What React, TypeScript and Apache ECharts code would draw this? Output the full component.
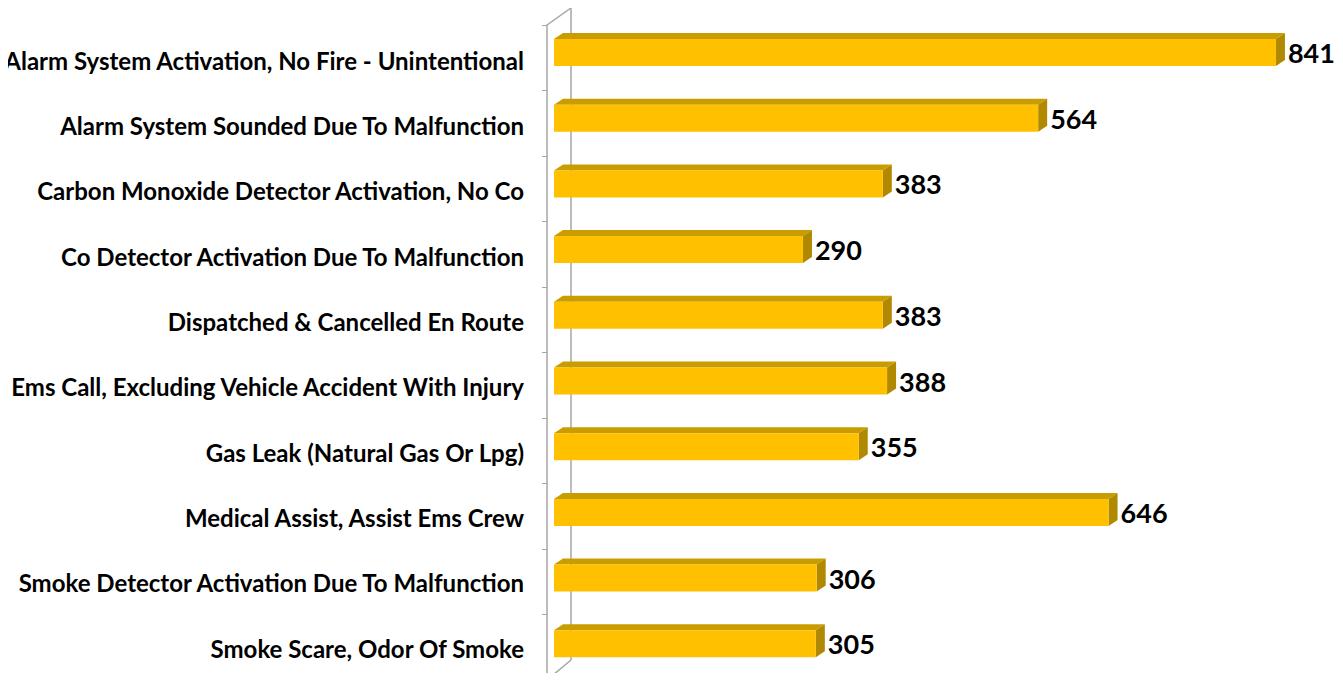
import React, { useEffect, useRef } from "react";
import * as echarts from "echarts";

const categories = [
  "Alarm System Activation, No Fire - Unintentional",
  "Alarm System Sounded Due To Malfunction",
  "Carbon Monoxide Detector Activation, No Co",
  "Co Detector Activation Due To Malfunction",
  "Dispatched & Cancelled En Route",
  "Ems Call, Excluding Vehicle Accident With Injury",
  "Gas Leak (Natural Gas Or Lpg)",
  "Medical Assist, Assist Ems Crew",
  "Smoke Detector Activation Due To Malfunction",
  "Smoke Scare, Odor Of Smoke",
];
const counts = [841, 564, 383, 290, 383, 388, 355, 646, 306, 305];

const FRONT = "#FFC000";
const TOP = "#C99C00";
const SIDE = "#B08900";
const WALL = "#A6A6A6";
const FONT = "Lato, 'Open Sans', sans-serif";

export default function App() {
  const ref = useRef<HTMLDivElement>(null);
  useEffect(() => {
    if (!ref.current) return;
    const chart = echarts.init(ref.current, null, { renderer: "svg" });
    const data = counts.map((v, i) => [v, i]);
    chart.setOption({
      animation: false,
      backgroundColor: "#ffffff",
      grid: [
        { left: 554, top: 19.65, height: 657, width: 772.6 },
        { left: 547, top: 25, height: 655, width: 10 },
        { left: 547, top: 27.65, height: 657, width: 10 },
      ],
      xAxis: [
        { type: "value", gridIndex: 0, min: 0, max: 900, show: false },
        { type: "value", gridIndex: 1, show: false },
        { type: "value", gridIndex: 2, show: false },
      ],
      yAxis: [
        { type: "category", gridIndex: 0, data: categories, inverse: true, show: false },
        {
          type: "category",
          gridIndex: 1,
          data: categories,
          inverse: true,
          axisLine: { show: true, lineStyle: { color: WALL, width: 1.5 } },
          axisTick: { show: true, length: 5, lineStyle: { color: WALL } },
          axisLabel: { show: false },
          splitLine: { show: false },
        },
        {
          type: "category",
          gridIndex: 2,
          data: categories,
          inverse: true,
          axisLine: { show: false },
          axisTick: { show: false },
          axisLabel: {
            show: true,
            margin: 23,
            color: "#000",
            fontFamily: FONT,
            fontWeight: "bold",
            fontSize: 24,
          },
        },
      ],
      graphic: [
        { type: "line", shape: { x1: 571, y1: 8, x2: 571, y2: 660 }, style: { stroke: WALL, lineWidth: 1.5 } },
        { type: "line", shape: { x1: 547, y1: 25, x2: 571, y2: 8 }, style: { stroke: WALL, lineWidth: 1.5 } },
        { type: "line", shape: { x1: 547, y1: 680, x2: 571, y2: 660 }, style: { stroke: WALL, lineWidth: 1.5 } },
      ],
      series: [
        {
          type: "custom",
          xAxisIndex: 0,
          yAxisIndex: 0,
          data,
          renderItem: (params: any, api: any) => {
            const v = api.value(0);
            const c = api.value(1);
            const s = api.coord([0, c]);
            const e = api.coord([v, c]);
            const h = 27;
            const dx = 9;
            const dy = 6;
            const x0 = s[0];
            const x1 = e[0];
            const yt = s[1] - h / 2;
            const yb = s[1] + h / 2;
            return {
              type: "group",
              children: [
                {
                  type: "polygon",
                  shape: { points: [[x0, yt], [x0 + dx, yt - dy], [x1 + dx, yt - dy], [x1, yt]] },
                  style: { fill: TOP },
                },
                {
                  type: "polygon",
                  shape: { points: [[x1, yt], [x1 + dx, yt - dy], [x1 + dx, yb - dy], [x1, yb]] },
                  style: { fill: SIDE },
                },
                {
                  type: "rect",
                  shape: { x: x0, y: yt, width: x1 - x0, height: h },
                  style: { fill: FRONT },
                },
                {
                  type: "text",
                  x: x1 + dx + 3,
                  y: s[1],
                  style: {
                    text: String(v),
                    fill: "#000",
                    font: `bold 27px ${FONT}`,
                    textAlign: "left",
                    textVerticalAlign: "middle",
                  },
                },
              ],
            };
          },
        },
      ],
    });
    return () => chart.dispose();
  }, []);
  return <div ref={ref} style={{ width: 1343, height: 681, margin: -8 }} />;
}
